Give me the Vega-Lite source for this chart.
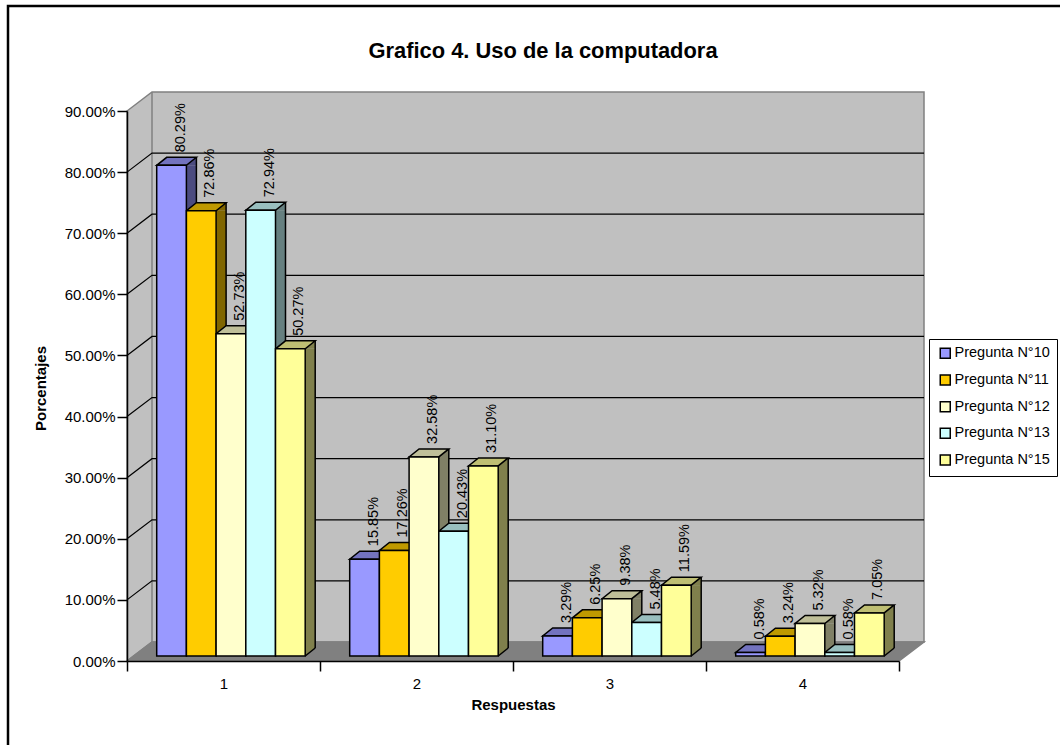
{
"$schema":"https://vega.github.io/schema/vega-lite/v6.json",
"width":772,"height":550,"autosize":{"type":"none"},
"padding":{"left":127,"top":111,"right":161,"bottom":84},
"background":"white",
"title":{"text":"Grafico 4. Uso de la computadora","font":"Liberation Sans","fontSize":21.9,"fontWeight":"bold","color":"black","anchor":"middle","dx":30,"offset":-62},
"config":{"font":"Liberation Sans","view":{"stroke":null}},
"datasets":{"bars":[
{"r":"1","s":"Pregunta N°10","v":0.8029},{"r":"1","s":"Pregunta N°11","v":0.7286},{"r":"1","s":"Pregunta N°12","v":0.5273},{"r":"1","s":"Pregunta N°13","v":0.7294},{"r":"1","s":"Pregunta N°15","v":0.5027},
{"r":"2","s":"Pregunta N°10","v":0.1585},{"r":"2","s":"Pregunta N°11","v":0.1726},{"r":"2","s":"Pregunta N°12","v":0.3258},{"r":"2","s":"Pregunta N°13","v":0.2043},{"r":"2","s":"Pregunta N°15","v":0.3110},
{"r":"3","s":"Pregunta N°10","v":0.0329},{"r":"3","s":"Pregunta N°11","v":0.0625},{"r":"3","s":"Pregunta N°12","v":0.0938},{"r":"3","s":"Pregunta N°13","v":0.0548},{"r":"3","s":"Pregunta N°15","v":0.1159},
{"r":"4","s":"Pregunta N°10","v":0.0058},{"r":"4","s":"Pregunta N°11","v":0.0324},{"r":"4","s":"Pregunta N°12","v":0.0532},{"r":"4","s":"Pregunta N°13","v":0.0058},{"r":"4","s":"Pregunta N°15","v":0.0705}
],"ticks":[{"t":0.1},{"t":0.2},{"t":0.3},{"t":0.4},{"t":0.5},{"t":0.6},{"t":0.7},{"t":0.8}],"base":[{"t":0}]},
"data":{"name":"bars"},
"resolve":{"scale":{"color":"independent","xOffset":"independent"}},
"layer":[
{"data":{"name":"base"},"mark":{"type":"point","filled":false,"size":4,"opacity":1,"stroke":"black","strokeWidth":2.5,"shape":"M-119,84L-119,-655L933,-655"},
 "encoding":{"x":{"value":0},"y":{"field":"t","type":"quantitative","scale":{"domain":[0,0.9],"nice":false,"zero":true},
   "axis":{"values":[0,0.1,0.2,0.3,0.4,0.5,0.6,0.7,0.8,0.9],"format":".2%","grid":false,"zindex":1,"tickSize":10,"tickColor":"black","tickWidth":1.5,"domainColor":"black","domainWidth":1.5,"labelColor":"black","labelFont":"Liberation Sans","labelFontSize":15,"labelPadding":2,"title":"Porcentajes","titleFont":"Liberation Sans","titleFontSize":15,"titleFontWeight":"bold","titleColor":"black","titleX":-79,"titleY":277}}}},
{"data":{"name":"base"},"mark":{"type":"point","filled":true,"size":4,"opacity":1,"fill":"#c0c0c0","stroke":"#808080","strokeWidth":1.5,"shape":"M0,0L25,-19L797,-19L797,-569L25,-569L0,-550Z"},
 "encoding":{"x":{"value":0},"y":{"field":"t","type":"quantitative"}}},
{"data":{"name":"base"},"mark":{"type":"point","filled":true,"size":4,"opacity":1,"fill":"#808080","stroke":"#808080","strokeWidth":1.5,"shape":"M0,0L772,0L797,-19L25,-19Z"},
 "encoding":{"x":{"value":0},"y":{"field":"t","type":"quantitative"}}},
{"data":{"name":"base"},"mark":{"type":"point","filled":false,"size":4,"opacity":1,"stroke":"#808080","strokeWidth":1.5,"shape":"M25,-19L25,-569"},
 "encoding":{"x":{"value":0},"y":{"field":"t","type":"quantitative"}}},
{"data":{"name":"ticks"},"mark":{"type":"point","filled":false,"size":4,"opacity":1,"stroke":"black","strokeWidth":1.2,"shape":"M0,0L25,-19L797,-19"},
 "encoding":{"x":{"value":0},"y":{"field":"t","type":"quantitative"}}},
{"mark":{"type":"bar","size":10,"yOffset":-5,"y2Offset":-13,"strokeWidth":0},
 "encoding":{"x":{"field":"r","type":"nominal","scale":{"paddingInner":0,"paddingOuter":0},"axis":{"labelAngle":0,"tickBand":"extent","zindex":1,"tickSize":10,"tickColor":"black","tickWidth":1.5,"domainColor":"black","domainWidth":1.5,"labelColor":"black","labelFont":"Liberation Sans","labelFontSize":15,"labelPadding":5,"title":"Respuestas","titleFont":"Liberation Sans","titleFontSize":15,"titleFontWeight":"bold","titleColor":"black","titlePadding":6}},
  "xOffset":{"field":"s","type":"nominal","scale":{"range":[49.55,198.05],"paddingInner":0,"paddingOuter":0}},
  "y":{"field":"v","type":"quantitative","stack":null},"y2":{"datum":0},
  "color":{"field":"s","type":"nominal","legend":null,"scale":{"range":["#4c4c80","#806600","#808066","#668080","#80804c"]}}}},
{"mark":{"type":"point","filled":true,"size":4,"opacity":1,"yOffset":-5,"strokeWidth":0,"shape":"M14.85,-8L24.85,-8L14.85,0Z"},
 "encoding":{"x":{"field":"r","type":"nominal"},"xOffset":{"field":"s","type":"nominal","scale":{"range":[44.55,163.35],"paddingInner":0,"paddingOuter":0}},"y":{"datum":0},
  "color":{"field":"s","type":"nominal","legend":null,"scale":{"range":["#4c4c80","#806600","#808066","#668080","#80804c"]}}}},
{"mark":{"type":"point","filled":true,"size":4,"opacity":1,"yOffset":-5,"strokeWidth":0,"shape":"M14.85,0L24.85,-8L24.85,0Z"},
 "encoding":{"x":{"field":"r","type":"nominal"},"xOffset":{"field":"s","type":"nominal","scale":{"range":[44.55,163.35],"paddingInner":0,"paddingOuter":0}},"y":{"field":"v","type":"quantitative"},
  "color":{"field":"s","type":"nominal","legend":null,"scale":{"range":["#4c4c80","#806600","#808066","#668080","#80804c"]}}}},
{"mark":{"type":"point","filled":false,"size":4,"opacity":1,"yOffset":-5,"stroke":"black","strokeWidth":1.5,"shape":"M14.85,0L24.85,-8"},
 "encoding":{"x":{"field":"r","type":"nominal"},"xOffset":{"field":"s","type":"nominal","scale":{"range":[44.55,163.35],"paddingInner":0,"paddingOuter":0}},"y":{"datum":0}}},
{"mark":{"type":"rule","yOffset":-13,"y2Offset":-13,"stroke":"black","strokeWidth":1.5},
 "encoding":{"x":{"field":"r","type":"nominal"},"xOffset":{"field":"s","type":"nominal","scale":{"range":[54.55,203.05],"paddingInner":0,"paddingOuter":0}},"y":{"field":"v","type":"quantitative"},"y2":{"datum":0}}},
{"mark":{"type":"point","filled":true,"size":4,"opacity":1,"yOffset":-5,"stroke":"black","strokeWidth":1.5,"shape":"M-14.85,0L14.85,0L24.85,-8L-4.85,-8Z"},
 "encoding":{"x":{"field":"r","type":"nominal"},"xOffset":{"field":"s","type":"nominal","scale":{"range":[44.55,163.35],"paddingInner":0,"paddingOuter":0}},"y":{"field":"v","type":"quantitative"},
  "color":{"field":"s","type":"nominal","legend":null,"scale":{"range":["#7373bf","#bf9900","#bfbf99","#99bfbf","#bfbf73"]}}}},
{"mark":{"type":"bar","yOffset":-5,"y2Offset":-5,"stroke":"black","strokeWidth":1.5},
 "encoding":{"x":{"field":"r","type":"nominal"},"xOffset":{"field":"s","type":"nominal","scale":{"range":[29.7,178.2],"paddingInner":0,"paddingOuter":0}},"y":{"field":"v","type":"quantitative","stack":null},"y2":{"datum":0},
  "color":{"field":"s","type":"nominal","title":null,"scale":{"range":["#9999ff","#ffcc00","#ffffcc","#ccffff","#ffff99"]},
   "legend":{"orient":"none","legendX":802,"legendY":228,"symbolType":"square","symbolSize":100,"symbolStrokeColor":"black","symbolStrokeWidth":1.5,"labelFont":"Liberation Sans","labelFontSize":14.5,"labelColor":"black","fillColor":"white","strokeColor":"black","padding":7,"symbolOffset":2,"rowPadding":9.7,"labelOffset":2}}}},
{"mark":{"type":"text","angle":270,"align":"left","baseline":"middle","yOffset":-18,"fontSize":14.5,"font":"Liberation Sans","color":"black"},
 "encoding":{"x":{"field":"r","type":"nominal"},"xOffset":{"field":"s","type":"nominal","scale":{"range":[53.55,172.35],"paddingInner":0,"paddingOuter":0}},"y":{"field":"v","type":"quantitative"},"text":{"field":"v","type":"quantitative","format":".2%"}}}
]}
